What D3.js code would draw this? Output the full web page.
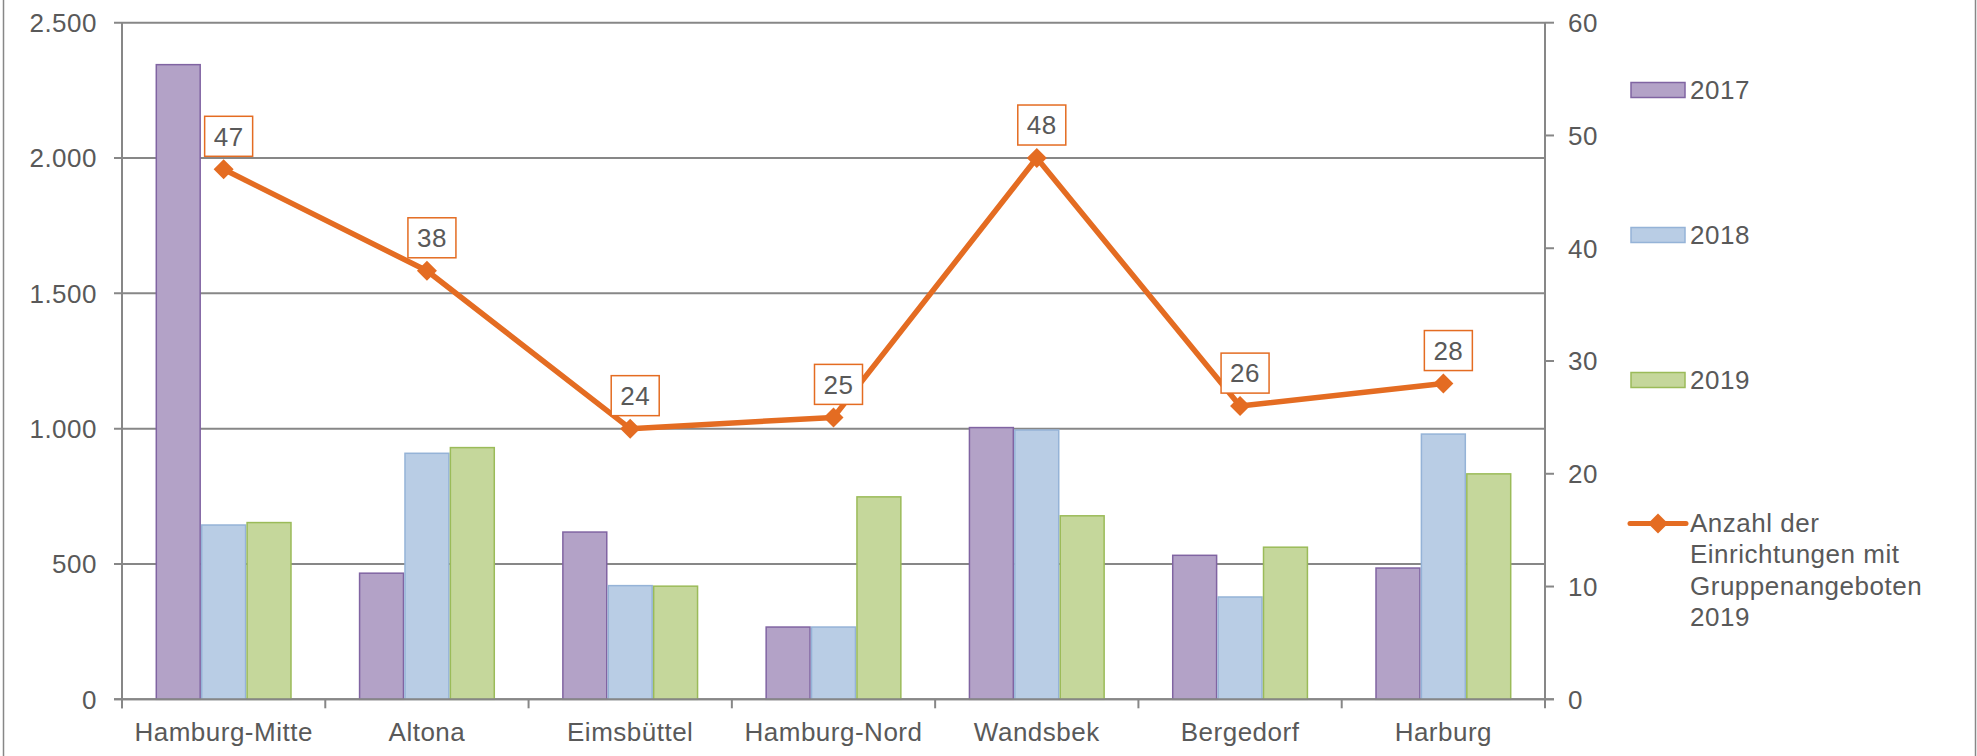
<!DOCTYPE html>
<html>
<head>
<meta charset="utf-8">
<script src="https://cdn.jsdelivr.net/npm/d3@7"></script>
<style>
  body { margin: 0; background: #fff; }
  text { font-family: "Liberation Sans", Arial, sans-serif; fill: #595959; letter-spacing: 0.5px; }
</style>
</head>
<body>
<script>
// data
let districts = ["Hamburg-Mitte", "Altona", "Eimsbüttel", "Hamburg-Nord", "Wandsbek", "Bergedorf", "Harburg"];
let years = ["2017", "2018", "2019"];
let values2017 = [2345, 466, 618, 267, 1004, 532, 485];
let values2018 = [644, 909, 420, 267, 995, 378, 980];
let values2019 = [653, 930, 418, 748, 678, 562, 833];
let facilities2019 = [47, 38, 24, 25, 48, 26, 28];
let leftTicks = [0, 500, 1000, 1500, 2000, 2500];
let rightTicks = [0, 10, 20, 30, 40, 50, 60];
let lineName = ["Anzahl der", "Einrichtungen mit", "Gruppenangeboten", "2019"];

let width = 1977,
    height = 756;

let svg = d3.select("body").append("svg")
    .attr("width", width).attr("height", height);

let fills = {"2017": "#b3a2c7", "2018": "#b9cde5", "2019": "#c5d79b"};
let strokes = {"2017": "#8064a2", "2018": "#95b3d7", "2019": "#9bbb59"};
let orange = "#e46c22";
let gridColor = "#878787";
let fontSize = 26;

let plotLeft = 122, plotRight = 1545, plotTop = 22.7, plotBottom = 699.3;

let x0 = d3.scaleBand().domain(districts)
    .range([plotLeft, plotRight])
    .paddingInner(0.33).paddingOuter(0.165);
let x1 = d3.scaleBand().domain(years).range([0, x0.bandwidth()]);
let yLeft = d3.scaleLinear().domain([0, 2500]).range([plotBottom, plotTop]);
let yRight = d3.scaleLinear().domain([0, 60]).range([plotBottom, plotTop]);

let de = d3.formatLocale({decimal: ",", thousands: ".", grouping: [3], currency: ["", " €"]});
let fmt = de.format(",d");

// outer frame (left / right edges visible)
svg.append("line").attr("x1", 3.5).attr("x2", 3.5).attr("y1", 0).attr("y2", height)
    .attr("stroke", gridColor).attr("stroke-width", 1.5);
svg.append("line").attr("x1", 1975.5).attr("x2", 1975.5).attr("y1", 0).attr("y2", height)
    .attr("stroke", gridColor).attr("stroke-width", 1.5);

// gridlines + left ticks
svg.append("g").selectAll("line").data(leftTicks).enter().append("line")
    .attr("x1", plotLeft - 8).attr("x2", plotRight)
    .attr("y1", d => yLeft(d)).attr("y2", d => yLeft(d))
    .attr("stroke", gridColor).attr("stroke-width", 2);

svg.append("g").selectAll("text").data(leftTicks).enter().append("text")
    .attr("x", 97).attr("y", d => yLeft(d))
    .attr("dy", "0.36em")
    .attr("text-anchor", "end")
    .style("font-size", fontSize + "px")
    .text(d => fmt(d));

// right ticks
svg.append("g").selectAll("line").data(rightTicks).enter().append("line")
    .attr("x1", plotRight).attr("x2", plotRight + 9)
    .attr("y1", d => yRight(d)).attr("y2", d => yRight(d))
    .attr("stroke", gridColor).attr("stroke-width", 2);

svg.append("g").selectAll("text").data(rightTicks).enter().append("text")
    .attr("x", 1568).attr("y", d => yRight(d))
    .attr("dy", "0.36em")
    .style("font-size", fontSize + "px")
    .text(d => d);

// bars
let groups = svg.append("g").selectAll("g").data(districts).enter().append("g")
    .attr("transform", d => "translate(" + x0(d) + ",0)");

let seriesValues = {"2017": values2017, "2018": values2018, "2019": values2019};

groups.selectAll("rect")
    .data((d, i) => years.map(y => ({year: y, value: seriesValues[y][i]})))
    .enter().append("rect")
    .attr("x", d => x1(d.year) + 0.75)
    .attr("width", x1.bandwidth() - 1.5)
    .attr("y", d => yLeft(d.value))
    .attr("height", d => plotBottom - yLeft(d.value))
    .attr("fill", d => fills[d.year])
    .attr("stroke", d => strokes[d.year])
    .attr("stroke-width", 1.5);

// axes lines
svg.append("line").attr("x1", plotLeft).attr("x2", plotLeft)
    .attr("y1", plotTop).attr("y2", plotBottom + 9)
    .attr("stroke", gridColor).attr("stroke-width", 2);
svg.append("line").attr("x1", plotRight).attr("x2", plotRight)
    .attr("y1", plotTop).attr("y2", plotBottom + 9)
    .attr("stroke", gridColor).attr("stroke-width", 2);
svg.append("line").attr("x1", plotLeft - 8).attr("x2", plotRight + 9)
    .attr("y1", plotBottom).attr("y2", plotBottom)
    .attr("stroke", gridColor).attr("stroke-width", 2);

// category ticks
svg.append("g").selectAll("line").data(districts).enter().append("line")
    .attr("x1", (d, i) => plotLeft + i * x0.step())
    .attr("x2", (d, i) => plotLeft + i * x0.step())
    .attr("y1", plotBottom).attr("y2", plotBottom + 9)
    .attr("stroke", gridColor).attr("stroke-width", 2);

svg.append("g").selectAll("text").data(districts).enter().append("text")
    .attr("x", d => x0(d) + x0.bandwidth() / 2)
    .attr("y", 741)
    .attr("text-anchor", "middle")
    .style("font-size", fontSize + "px")
    .text(d => d);

// line series
let cx = d => x0(d) + x0.bandwidth() / 2;
let line = d3.line()
    .x((d, i) => cx(districts[i]))
    .y(d => yRight(d));

svg.append("path")
    .datum(facilities2019)
    .attr("d", line)
    .attr("fill", "none")
    .attr("stroke", orange)
    .attr("stroke-width", 5.5)
    .attr("stroke-linejoin", "round");

let diamond = d3.symbol().type(d3.symbolSquare).size(200);

svg.append("g").selectAll("path").data(facilities2019).enter().append("path")
    .attr("d", diamond)
    .attr("transform", (d, i) => "translate(" + cx(districts[i]) + "," + yRight(d) + ") rotate(45)")
    .attr("fill", orange);

// data labels
let labels = svg.append("g").selectAll("g").data(facilities2019).enter().append("g")
    .attr("transform", (d, i) => "translate(" + (cx(districts[i]) + 5) + "," + (yRight(d) - 13) + ")");

labels.append("rect")
    .attr("x", -24).attr("y", -40)
    .attr("width", 48).attr("height", 40)
    .attr("fill", "#fff")
    .attr("stroke", orange)
    .attr("stroke-width", 1.5);

labels.append("text")
    .attr("y", -20)
    .attr("dy", "0.36em")
    .attr("text-anchor", "middle")
    .style("font-size", fontSize + "px")
    .text(d => d);

// legend
let legendY = {"2017": 90, "2018": 235, "2019": 380};
let legend = svg.append("g");

years.forEach(function (y) {
    legend.append("rect")
        .attr("x", 1631).attr("y", legendY[y] - 7.5)
        .attr("width", 54).attr("height", 15)
        .attr("fill", fills[y])
        .attr("stroke", strokes[y])
        .attr("stroke-width", 1.5);
    legend.append("text")
        .attr("x", 1690).attr("y", legendY[y])
        .attr("dy", "0.36em")
        .style("font-size", fontSize + "px")
        .text(y);
});

legend.append("line")
    .attr("x1", 1630).attr("x2", 1686)
    .attr("y1", 523.5).attr("y2", 523.5)
    .attr("stroke", orange).attr("stroke-width", 5)
    .attr("stroke-linecap", "round");
legend.append("path")
    .attr("d", diamond)
    .attr("transform", "translate(1658,523.5) rotate(45)")
    .attr("fill", orange);

legend.append("text")
    .attr("x", 1690).attr("y", 532)
    .style("font-size", fontSize + "px")
    .selectAll("tspan").data(lineName).enter().append("tspan")
    .attr("x", 1690)
    .attr("dy", (d, i) => i === 0 ? 0 : 31.4)
    .text(d => d);
</script>
</body>
</html>
